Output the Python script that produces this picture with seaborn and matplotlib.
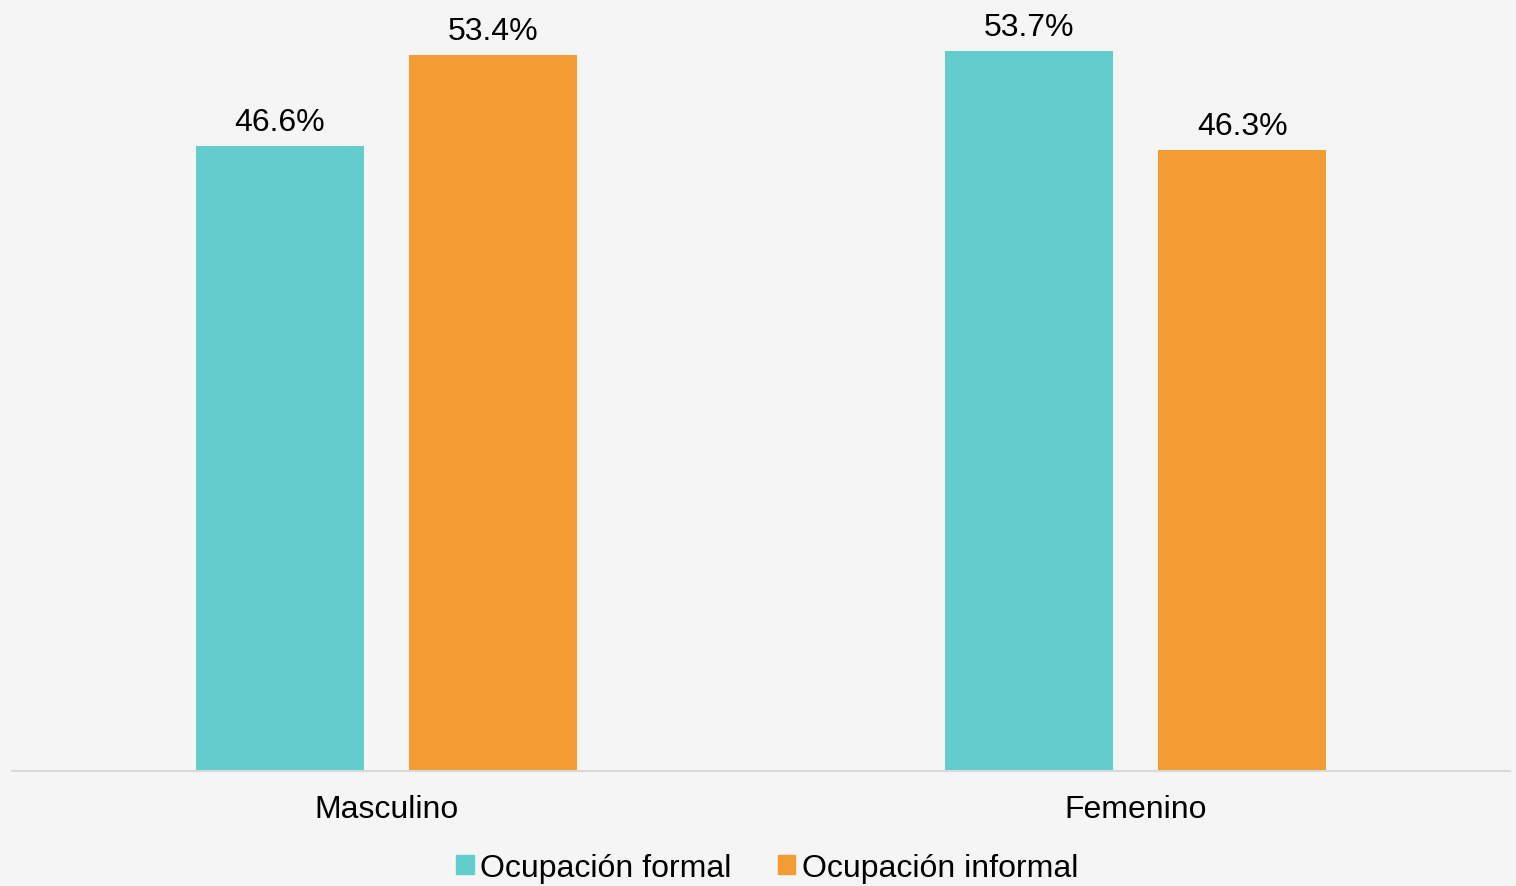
import pandas as pd
import seaborn as sns
import matplotlib.pyplot as plt

sexo = ["Masculino", "Femenino"]
series = ["Ocupación formal", "Ocupación informal"]
formal = [46.6, 53.7]
informal = [53.4, 46.3]
colores = ["#62CDCC", "#F29C33"]

df = pd.DataFrame({
    "sexo": sexo * 2,
    "tipo": [series[0]] * 2 + [series[1]] * 2,
    "valor": formal + informal,
})

sns.set_style("white")
plt.rcParams["font.family"] = ["Liberation Sans", "DejaVu Sans"]
bg = "#F5F5F5"
fs = 23

fig = plt.figure(figsize=(15.16, 8.87), dpi=100, facecolor=bg)
ax = fig.add_axes([12 / 1516, 115.5 / 887, 1498 / 1516, 770 / 887])
ax.set_facecolor(bg)

sns.barplot(data=df, x="sexo", y="valor", hue="tipo", order=sexo, hue_order=series,
            palette=colores, width=0.571, gap=0.215, ax=ax, legend=False,
            saturation=1, linewidth=0)

for cont in ax.containers:
    ax.bar_label(cont, labels=[f"{v:.1f}%" for v in cont.datavalues],
                 padding=7, fontsize=fs, color="#000000")

ax.set_ylim(0, 57.5)
ax.set_xlim(-0.5, 1.5)
ax.set_xlabel("")
ax.set_ylabel("")
ax.set_yticks([])
ax.tick_params(axis="x", length=0, labelsize=fs, pad=17, colors="#000000")
for s in ["top", "left", "right"]:
    ax.spines[s].set_visible(False)
ax.spines["bottom"].set_color("#D9D9D9")
ax.spines["bottom"].set_linewidth(1.5)

handles = [plt.Rectangle((0, 0), 1, 1, color=c) for c in colores]
leg = fig.legend(handles, series, loc="center", bbox_to_anchor=(767 / 1516, 1 - 869 / 887),
                 ncol=2, frameon=False, fontsize=fs, handlelength=0.55, handleheight=0.55,
                 handletextpad=0.2, columnspacing=1.45)
for t in leg.get_texts():
    t.set_color("#000000")

fig.savefig("out.png", dpi=100, facecolor=bg)
